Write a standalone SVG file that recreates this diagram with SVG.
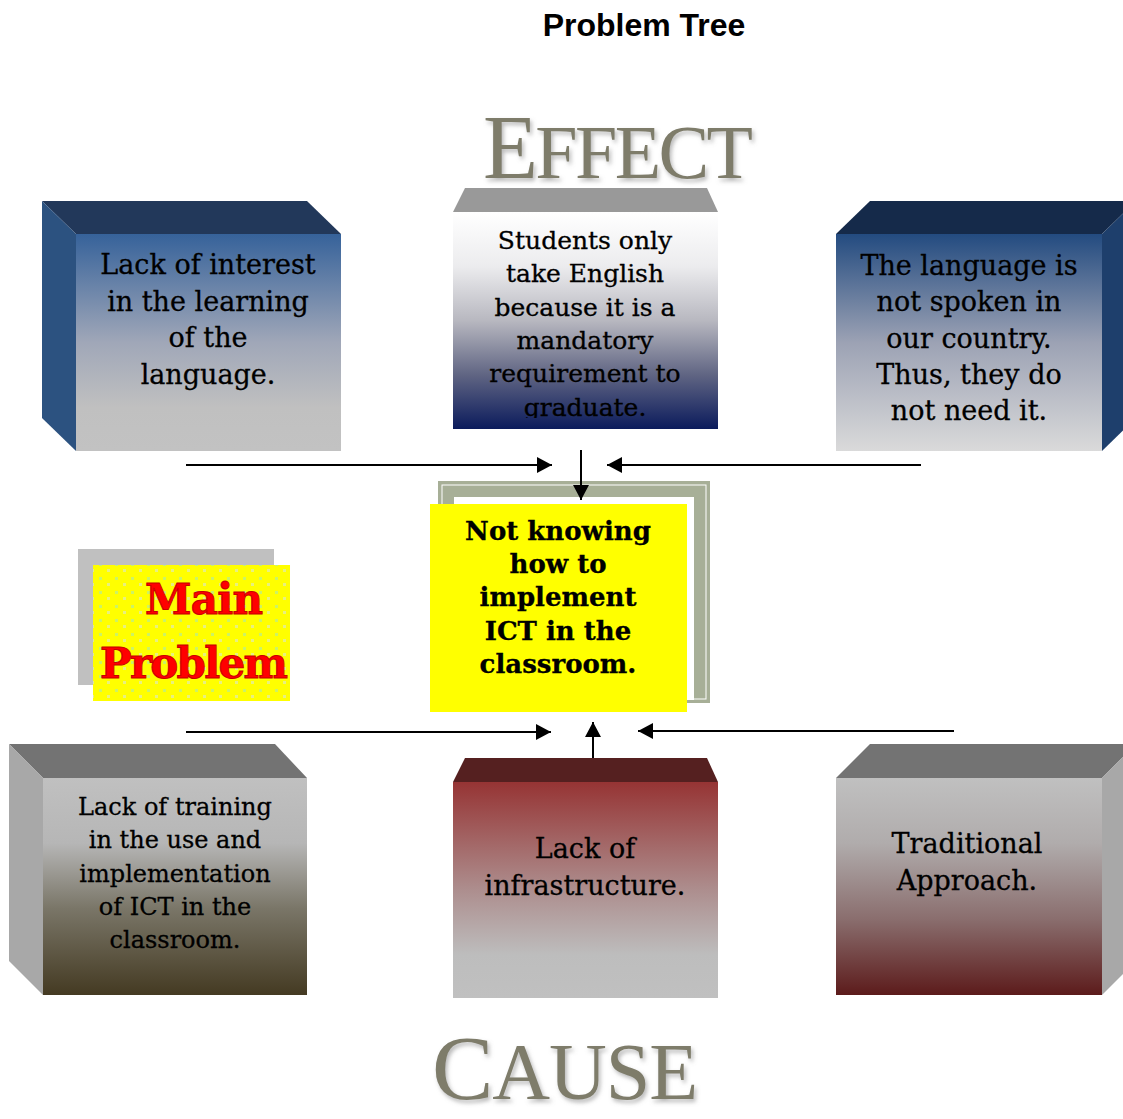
<svg xmlns="http://www.w3.org/2000/svg" width="1123" height="1119" viewBox="0 0 1123 1119">
<style>
.t{font-family:"DejaVu Serif","Liberation Serif",serif;fill:#000;text-anchor:middle;stroke:#000;stroke-width:0.3}
.big{font-family:"Liberation Serif","DejaVu Serif",serif;fill:#7e7c6a}
.ln{stroke:#000;stroke-width:2;fill:none}
</style>
<defs>
<linearGradient id="g1" x1="0" y1="0" x2="0" y2="1"><stop offset="0" stop-color="#36629a"/><stop offset="0.5" stop-color="#a0a7b8"/><stop offset="0.8" stop-color="#c0c0c0"/><stop offset="1" stop-color="#c2c2c2"/></linearGradient>
<linearGradient id="g2" x1="0" y1="0" x2="0" y2="1"><stop offset="0" stop-color="#ffffff"/><stop offset="0.25" stop-color="#ececee"/><stop offset="0.5" stop-color="#b8b8c0"/><stop offset="0.75" stop-color="#606583"/><stop offset="1" stop-color="#0b1b5c"/></linearGradient>
<linearGradient id="g3" x1="0" y1="0" x2="0" y2="1"><stop offset="0" stop-color="#234b80"/><stop offset="0.5" stop-color="#9ca2b4"/><stop offset="1" stop-color="#dadada"/></linearGradient>
<linearGradient id="g4" x1="0" y1="0" x2="0" y2="1"><stop offset="0" stop-color="#c0c0c0"/><stop offset="0.3" stop-color="#b6b6b6"/><stop offset="0.6" stop-color="#7a7668"/><stop offset="1" stop-color="#443a22"/></linearGradient>
<linearGradient id="g5" x1="0" y1="0" x2="0" y2="1"><stop offset="0" stop-color="#963434"/><stop offset="0.5" stop-color="#ad8e8e"/><stop offset="0.8" stop-color="#bdbdbd"/><stop offset="1" stop-color="#c0c0c0"/></linearGradient>
<linearGradient id="g6" x1="0" y1="0" x2="0" y2="1"><stop offset="0" stop-color="#c0c0c0"/><stop offset="0.3" stop-color="#b0acac"/><stop offset="0.65" stop-color="#8a6e6e"/><stop offset="1" stop-color="#5c1b1b"/></linearGradient>
<pattern id="dots" width="16" height="14" patternUnits="userSpaceOnUse"><rect width="16" height="14" fill="#ffff00"/><rect x="3" y="3" width="3" height="3" fill="#ccf266"/><rect x="11" y="9" width="3" height="3" fill="#e8f080"/></pattern>
<clipPath id="c2"><rect x="453" y="212" width="265" height="206"/></clipPath>
<filter id="sh" x="-10%" y="-10%" width="130%" height="140%"><feDropShadow dx="2" dy="3" stdDeviation="2" flood-color="#888" flood-opacity="0.6"/></filter>
<marker id="ah" markerUnits="userSpaceOnUse" markerWidth="16" markerHeight="16" refX="15" refY="8" orient="auto"><path d="M0,0 L15,8 L0,16 z" fill="#000"/></marker>
</defs>
<rect width="1123" height="1119" fill="#fff"/>

<text x="644" y="36" font-family="Liberation Sans, Arial, sans-serif" font-weight="bold" font-size="32" text-anchor="middle">Problem Tree</text>

<g id="effect-label" filter="url(#sh)"><text class="big" x="483" y="178" textLength="270"><tspan font-size="90">E</tspan><tspan font-size="76">FFECT</tspan></text></g>

<g id="effect1">
<polygon points="42,201 307,201 341,234 76,234" fill="#22385a"/>
<polygon points="42,201 76,234 76,451 42,418" fill="#2c5280"/>
<rect x="76" y="234" width="265" height="217" fill="url(#g1)"/>
<text class="t" font-size="27"><tspan x="208" y="274">Lack of interest</tspan><tspan x="208" y="311">in the learning</tspan><tspan x="208" y="347">of the</tspan><tspan x="208" y="384">language.</tspan></text>
</g>

<g id="effect2">
<polygon points="465,188 707,188 718,212 453,212" fill="#999999"/>
<rect x="453" y="212" width="265" height="217" fill="url(#g2)"/>
<text class="t" font-size="25" clip-path="url(#c2)"><tspan x="585" y="249">Students only</tspan><tspan x="585" y="282">take English</tspan><tspan x="585" y="316">because it is a</tspan><tspan x="585" y="349">mandatory</tspan><tspan x="585" y="382">requirement to</tspan><tspan x="585" y="416">graduate.</tspan></text>
</g>

<g id="effect3">
<polygon points="836,234 870,201 1136,201 1102,234" fill="#152a4a"/>
<polygon points="1102,234 1136,201 1136,418 1102,451" fill="#1e3f6c"/>
<rect x="836" y="234" width="266" height="217" fill="url(#g3)"/>
<text class="t" font-size="27"><tspan x="969" y="275">The language is</tspan><tspan x="969" y="311">not spoken in</tspan><tspan x="969" y="348">our country.</tspan><tspan x="969" y="384">Thus, they do</tspan><tspan x="969" y="420">not need it.</tspan></text>
</g>

<g id="main-label">
<rect x="78" y="549" width="196" height="136" fill="#c0c0c0"/>
<rect x="93" y="565" width="197" height="136" fill="url(#dots)"/>
<text font-family="DejaVu Serif, serif" font-weight="bold" fill="#ff0000" stroke="#c80000" stroke-width="1" font-size="42"><tspan x="145" y="614" textLength="118">Main</tspan><tspan x="100" y="678" textLength="188">Problem</tspan></text>
</g>

<g id="main-problem">
<rect x="438" y="481" width="272" height="222" fill="#a7af97"/>
<rect x="442" y="485" width="264" height="214" fill="none" stroke="#fff" stroke-width="1"/>
<rect x="454" y="497" width="240" height="203" fill="#fff"/>
<rect x="430" y="504" width="257" height="208" fill="#ffff00"/>
<text class="t" font-size="26" font-weight="bold" stroke-width="0.6"><tspan x="558" y="540">Not knowing</tspan><tspan x="558" y="573">how to</tspan><tspan x="558" y="606">implement</tspan><tspan x="558" y="640">ICT in the</tspan><tspan x="558" y="673">classroom.</tspan></text>
</g>

<g id="connectors">
<line class="ln" x1="186" y1="465" x2="552" y2="465" marker-end="url(#ah)"/>
<line class="ln" x1="921" y1="465" x2="607" y2="465" marker-end="url(#ah)"/>
<line class="ln" x1="581" y1="450" x2="581" y2="500" marker-end="url(#ah)"/>
<line class="ln" x1="186" y1="732" x2="551" y2="732" marker-end="url(#ah)"/>
<line class="ln" x1="954" y1="731" x2="638" y2="731" marker-end="url(#ah)"/>
<line class="ln" x1="593" y1="772" x2="593" y2="722" marker-end="url(#ah)"/>
</g>

<g id="cause1">
<polygon points="9,744 275,744 307,778 43,778" fill="#737373"/>
<polygon points="9,744 43,778 43,995 9,961" fill="#a8a8a8"/>
<rect x="43" y="778" width="264" height="217" fill="url(#g4)"/>
<text class="t" font-size="24"><tspan x="175" y="815">Lack of training</tspan><tspan x="175" y="848">in the use and</tspan><tspan x="175" y="882">implementation</tspan><tspan x="175" y="915">of ICT in the</tspan><tspan x="175" y="948">classroom.</tspan></text>
</g>

<g id="cause2">
<polygon points="465,758 707,758 718,782 453,782" fill="#552020"/>
<rect x="453" y="782" width="265" height="216" fill="url(#g5)"/>
<text class="t" font-size="27"><tspan x="585" y="858">Lack of</tspan><tspan x="585" y="895">infrastructure.</tspan></text>
</g>

<g id="cause3">
<polygon points="836,778 870,744 1136,744 1102,778" fill="#737373"/>
<polygon points="1102,778 1136,744 1136,961 1102,995" fill="#a8a8a8"/>
<rect x="836" y="778" width="266" height="217" fill="url(#g6)"/>
<text class="t" font-size="27"><tspan x="967" y="853">Traditional</tspan><tspan x="967" y="890">Approach.</tspan></text>
</g>

<g id="cause-label" filter="url(#sh)"><text class="big" x="432" y="1099" textLength="266"><tspan font-size="92">C</tspan><tspan font-size="80">AUSE</tspan></text></g>
</svg>
